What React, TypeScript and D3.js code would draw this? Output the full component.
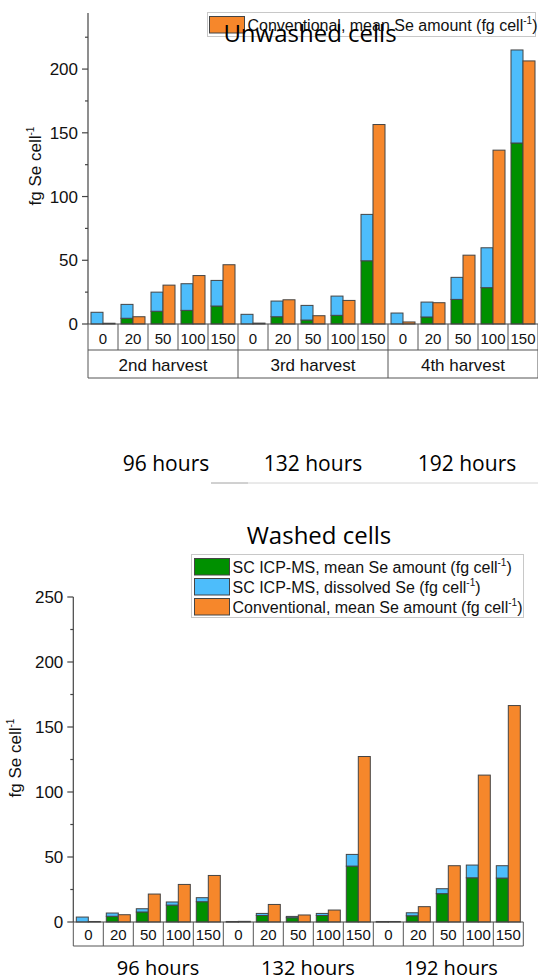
import React from "react";
import * as d3 from "d3";

const concentrations = ["0", "20", "50", "100", "150"];
const harvests = ["2nd harvest", "3rd harvest", "4th harvest"];
const hoursTop = ["96 hours", "132 hours", "192 hours"];
const hoursBottom = ["96 hours", "132 hours", "192 hours"];
const seriesNames = [
  "SC ICP-MS, mean Se amount (fg cell",
  "SC ICP-MS, dissolved Se (fg cell",
  "Conventional, mean Se amount (fg cell",
];
const topTicks = [0, 50, 100, 150, 200];
const bottomTicks = [0, 50, 100, 150, 200, 250];

// Unwashed cells
const unwashedMean = [0, 4.5, 10, 10.7, 14.1, 0, 5.7, 3.1, 6.8, 49.6, 0, 5.5, 19.3, 28.5, 142];
const unwashedDissolved = [9.2, 10.9, 15, 20.9, 20.1, 7.6, 12.3, 11.5, 15.1, 36.4, 8.6, 11.7, 17.3, 31.3, 73];
const unwashedConv = [0.6, 5.7, 30.5, 38, 46.5, 0.7, 19, 6.5, 18.5, 156.5, 1.6, 16.7, 54, 136.4, 206.4];

// Washed cells
const washedMean = [0, 4.4, 7.7, 13, 15.6, 0.2, 5, 3.3, 5, 43, 0.2, 4.8, 21.8, 34, 33.8];
const washedDissolved = [3.8, 2.5, 2.5, 2.4, 3.1, 0.2, 1.6, 1.0, 1.6, 9, 0.2, 2.3, 3.8, 9.8, 9.5];
const washedConv = [0.4, 5.6, 21.5, 28.9, 35.8, 0.5, 13.5, 5.4, 9.2, 127.3, 0.4, 11.8, 43.3, 113, 166.5];

const GREEN = "#009000";
const BLUE = "#4dbdfb";
const ORANGE = "#f6872b";
const STROKE = "#444";
const ARIAL = "'Liberation Sans', Arial, sans-serif";
const TITLEFONT = "'Open Sans', 'Noto Sans', sans-serif";

const keys = d3.range(15).map((i) => `${harvests[Math.floor(i / 5)]}|${concentrations[i % 5]}`);

type PanelProps = {
  mean: number[];
  dissolved: number[];
  conv: number[];
  x0: number;
  x1: number;
  yZero: number;
  yTop: number;
  yMax: number;
  ticks: number[];
  topTick: boolean;
  rowH: number;
  harvestRow: boolean;
  labelX: number;
  labelY: number;
};

function Panel(p: PanelProps) {
  const x = d3.scaleBand<string>().domain(keys).range([p.x0, p.x1]).paddingInner(0).paddingOuter(0);
  const inner = d3.scaleBand<string>().domain(["sc", "conv"]).range([0, x.bandwidth()]).paddingInner(0).paddingOuter(0.25);
  const y = d3.scaleLinear().domain([0, p.yMax]).range([p.yZero, p.yTop]);
  const minor = d3.range(25, p.yMax, 50);
  const axisTop = p.topTick ? y(p.ticks[p.ticks.length - 1]) : p.yTop;
  const bars: JSX.Element[] = [];
  keys.forEach((k, i) => {
    const bx = x(k)!;
    const sx = bx + inner("sc")!;
    const cx = bx + inner("conv")!;
    const w = inner.bandwidth();
    const m = p.mean[i];
    const d = p.dissolved[i];
    const c = p.conv[i];
    if (m > 0)
      bars.push(<rect key={`m${i}`} x={sx} y={y(m)} width={w} height={y(0) - y(m)} fill={GREEN} stroke={STROKE} strokeWidth={1} />);
    if (d > 0)
      bars.push(<rect key={`d${i}`} x={sx} y={y(m + d)} width={w} height={y(m) - y(m + d)} fill={BLUE} stroke={STROKE} strokeWidth={1} />);
    if (c > 0)
      bars.push(<rect key={`c${i}`} x={cx} y={y(c)} width={w} height={y(0) - y(c)} fill={ORANGE} stroke={STROKE} strokeWidth={1} />);
  });
  const rowTop = p.yZero;
  const rowBot = p.yZero + p.rowH;
  const bounds = keys.map((k) => x(k)!).concat([p.x1]);
  return (
    <g>
      {bars}
      {/* y axis */}
      <line x1={p.x0} x2={p.x0} y1={axisTop} y2={p.yZero} stroke={STROKE} strokeWidth={1.2} />
      {p.ticks.map((t) => (
        <g key={`t${t}`}>
          <line x1={p.x0 - 6} x2={p.x0} y1={y(t)} y2={y(t)} stroke={STROKE} strokeWidth={1.2} />
          <text x={p.x0 - 10} y={y(t)} dy="0.36em" textAnchor="end" fontFamily={ARIAL} fontSize={17} fill="#111">
            {t}
          </text>
        </g>
      ))}
      {minor.map((t) => (
        <line key={`mn${t}`} x1={p.x0 - 3} x2={p.x0} y1={y(t)} y2={y(t)} stroke={STROKE} strokeWidth={1.2} />
      ))}
      <text
        transform={`translate(${p.labelX},${p.labelY}) rotate(-90)`}
        textAnchor="middle"
        fontFamily={ARIAL}
        fontSize={17}
        fill="#111"
      >
        fg Se cell<tspan dy="-7" fontSize={10}>-1</tspan>
      </text>
      {/* category row */}
      <line x1={p.x0} x2={p.x1} y1={rowTop} y2={rowTop} stroke={STROKE} strokeWidth={1.2} />
      <line x1={p.x0} x2={p.x1} y1={rowBot} y2={rowBot} stroke="#555" strokeWidth={1} />
      {bounds.map((b, i) => (
        <line key={`b${i}`} x1={b} x2={b} y1={rowTop} y2={rowBot} stroke="#555" strokeWidth={1} />
      ))}
      {keys.map((k, i) => (
        <text key={`cl${i}`} x={x(k)! + x.bandwidth() / 2} y={rowTop + p.rowH - 6.5} textAnchor="middle" fontFamily={ARIAL} fontSize={15} fill="#111">
          {concentrations[i % 5]}
        </text>
      ))}
      {p.harvestRow && (
        <g>
          <line x1={p.x0} x2={p.x1} y1={rowBot + 28} y2={rowBot + 28} stroke="#555" strokeWidth={1} />
          {[0, 5, 10, 15].map((j) => (
            <line key={`h${j}`} x1={bounds[j]} x2={bounds[j]} y1={rowBot} y2={rowBot + 28} stroke="#555" strokeWidth={1} />
          ))}
          {harvests.map((h, j) => (
            <text key={h} x={(bounds[j * 5] + bounds[j * 5 + 5]) / 2} y={rowBot + 20.5} textAnchor="middle" fontFamily={ARIAL} fontSize={17} fill="#111">
              {h}
            </text>
          ))}
        </g>
      )}
    </g>
  );
}

function LegendEntry({ x, y, color, label }: { x: number; y: number; color: string; label: string }) {
  return (
    <g>
      <rect x={x} y={y} width={35} height={16.5} fill={color} stroke={STROKE} strokeWidth={1} />
      <text x={x + 38} y={y + 14} fontFamily={ARIAL} fontSize={16} fill="#111">
        {label}
        <tspan dy="-6.5" fontSize={10}>-1</tspan>
        <tspan dy="6.5">)</tspan>
      </text>
    </g>
  );
}

export default function App() {
  return (
    <svg width={538} height={980} style={{ position: "absolute", left: 0, top: 0, background: "#fff" }}>
      <rect x={0} y={0} width={538} height={980} fill="#fff" />
      {/* Top panel */}
      <Panel
        mean={unwashedMean}
        dissolved={unwashedDissolved}
        conv={unwashedConv}
        x0={88}
        x1={538}
        yZero={324}
        yTop={13}
        yMax={244}
        ticks={topTicks}
        topTick={false}
        rowH={26}
        harvestRow={true}
        labelX={41}
        labelY={166}
      />
      <rect x={207.5} y={12.5} width={328} height={24} fill="#fff" stroke="#c8c8c8" strokeWidth={1} />
      <LegendEntry x={209.5} y={16.5} color={ORANGE} label={seriesNames[2]} />
      <text x={310} y={41.5} textAnchor="middle" fontFamily={TITLEFONT} fontSize={24} fill="#000">
        Unwashed cells
      </text>
      {hoursTop.map((h, i) => (
        <text key={h} x={[166, 313, 467][i]} y={471} textAnchor="middle" fontFamily={TITLEFONT} fontSize={21} fill="#000">
          {h}
        </text>
      ))}
      <line x1={211} x2={538} y1={483} y2={483} stroke="#d4d4d4" strokeWidth={1} />
      <line x1={211} x2={248} y1={483} y2={483} stroke="#b8b8b8" strokeWidth={1} />

      {/* Bottom panel */}
      <text x={319} y={544} textAnchor="middle" fontFamily={TITLEFONT} fontSize={24} fill="#000">
        Washed cells
      </text>
      <rect x={191.5} y={554.5} width={332} height={63} fill="#fff" stroke="#c8c8c8" strokeWidth={1} />
      <LegendEntry x={194.5} y={558.5} color={GREEN} label={seriesNames[0]} />
      <LegendEntry x={194.5} y={578.5} color={BLUE} label={seriesNames[1]} />
      <LegendEntry x={194.5} y={598.5} color={ORANGE} label={seriesNames[2]} />
      <Panel
        mean={washedMean}
        dissolved={washedDissolved}
        conv={washedConv}
        x0={73.3}
        x1={523.3}
        yZero={922}
        yTop={597}
        yMax={250}
        ticks={bottomTicks}
        topTick={true}
        rowH={24}
        harvestRow={false}
        labelX={21}
        labelY={758}
      />
      {hoursBottom.map((h, i) => (
        <text key={`b${h}`} x={[158, 308, 451][i]} y={975} textAnchor="middle" fontFamily={TITLEFONT} fontSize={20} fill="#000">
          {h}
        </text>
      ))}
    </svg>
  );
}
